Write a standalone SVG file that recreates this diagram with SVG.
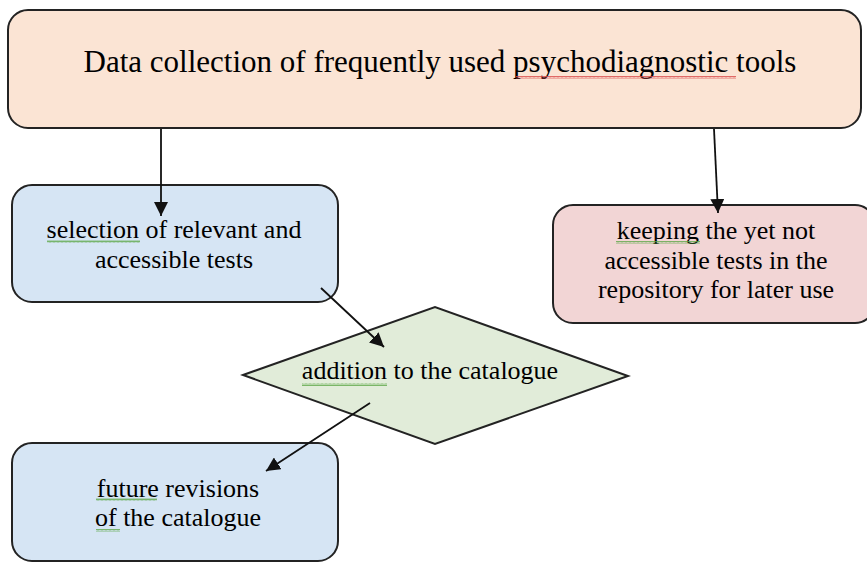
<svg xmlns="http://www.w3.org/2000/svg" width="867" height="563" viewBox="0 0 867 563">
<style>
.box{stroke:#232323;stroke-width:2}
.t{font-family:"Liberation Serif","Times New Roman",serif;fill:#000;text-anchor:middle}
.t26{font-size:26px}
.conn{stroke:#111;stroke-width:1.8;fill:none}
</style>
<defs>
<marker id="ahb" viewBox="0 0 14 14" refX="14" refY="7" markerWidth="14" markerHeight="14" markerUnits="userSpaceOnUse" orient="auto">
<path d="M0,0 L14,7 L0,14 Z" fill="#111"/>
</marker>
<pattern id="sqg" width="4" height="3" patternUnits="userSpaceOnUse">
<path d="M0,2.5 L1,0.5 L2,2.5 L3,0.5 L4,2.5" fill="none" stroke="#5fa84a" stroke-width="0.8"/>
</pattern>
<pattern id="sqr" width="4" height="3" patternUnits="userSpaceOnUse">
<path d="M0,2.5 L1,0.5 L2,2.5 L3,0.5 L4,2.5" fill="none" stroke="#d94a4a" stroke-width="0.8"/>
</pattern>
</defs>
<rect width="867" height="563" fill="#ffffff"/>

<g id="node-data-collection">
<rect class="box" x="8" y="10" width="853" height="118" rx="20" fill="#fbe4d4"/>
<text class="t" x="440" y="72" font-size="31">Data collection of frequently used psychodiagnostic tools</text>
<rect x="516" y="76" width="220" height="3" fill="url(#sqr)"/>
</g>

<g id="node-selection">
<rect class="box" x="12" y="185" width="326" height="117" rx="20" fill="#d6e5f4"/>
<text class="t t26" x="174" y="238">selection of relevant and</text>
<text class="t t26" x="174" y="268">accessible tests</text>
<rect x="47" y="240" width="93" height="3" fill="url(#sqg)"/>
</g>

<g id="node-keeping">
<rect class="box" x="553" y="205" width="322" height="118" rx="20" fill="#f2d5d5"/>
<text class="t t26" x="716" y="239">keeping the yet not</text>
<text class="t t26" x="716" y="269">accessible tests in the</text>
<text class="t t26" x="716" y="298">repository for later use</text>
<rect x="616" y="241" width="84" height="3" fill="url(#sqg)"/>
</g>

<g id="node-addition">
<polygon class="box" points="243,375 435,307 628,376 435,444" fill="#e1ecd9"/>
<text class="t t26" x="430" y="379">addition to the catalogue</text>
<rect x="302" y="383" width="85" height="3" fill="url(#sqg)"/>
</g>

<g id="node-future">
<rect class="box" x="12" y="443" width="326" height="118" rx="20" fill="#d6e5f4"/>
<text class="t t26" x="178" y="497">future revisions</text>
<text class="t t26" x="178" y="526">of the catalogue</text>
<rect x="96" y="498" width="61" height="3" fill="url(#sqg)"/>
<rect x="96" y="529" width="24" height="3" fill="url(#sqg)"/>
</g>

<g id="connectors">
<line class="conn" x1="161" y1="129" x2="161" y2="216" marker-end="url(#ahb)"/>
<line class="conn" x1="714" y1="129" x2="718" y2="213" marker-end="url(#ahb)"/>
<line class="conn" x1="321" y1="288" x2="384" y2="347" marker-end="url(#ahb)"/>
<line class="conn" x1="370" y1="403" x2="266" y2="471" marker-end="url(#ahb)"/>
</g>
</svg>
